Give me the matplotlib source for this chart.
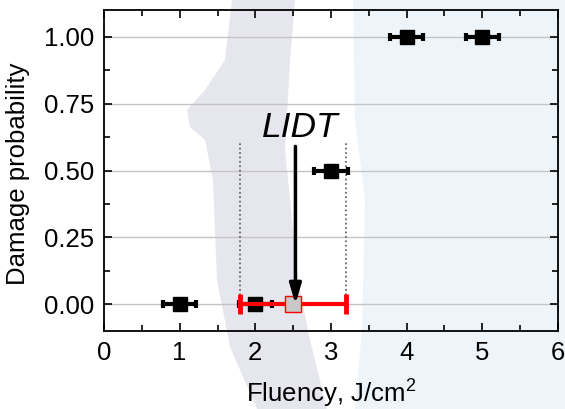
import matplotlib
matplotlib.use("Agg")
import matplotlib.pyplot as plt
from matplotlib.patches import Polygon
from matplotlib.ticker import MultipleLocator

plt.rcParams['font.family'] = ['Liberation Sans', 'DejaVu Sans']
plt.rcParams['mathtext.default'] = 'regular'

# data
fluency = [1, 2, 3, 4, 5]
prob = [0.0, 0.0, 0.5, 1.0, 1.0]
fluency_err = [0.22, 0.22, 0.22, 0.22, 0.22]

lidt_x = 2.5
lidt_y = 0.0
lidt_lo = 1.8
lidt_hi = 3.2

W, H = 565, 409
fig = plt.figure(figsize=(W / 100, H / 100), dpi=100)

# background watermark (figure pixel coords, y from top)
gray_shape = [(232, 0), (225, 60), (205, 90), (187, 110), (190, 127), (205, 140),
              (213, 180), (217, 280), (230, 347), (257, 409),
              (327, 409), (310, 340), (298, 280), (290, 200), (285, 150), (290, 60), (295, 0)]
blue_shape = [(353, 0), (355, 120), (365, 200), (362, 330), (355, 409),
              (565, 409), (565, 0)]
for pts, col in [(gray_shape, '#e6e6ee'), (blue_shape, '#eef5fa')]:
    fig.patches.append(Polygon([(x / W, 1 - y / H) for x, y in pts], closed=True,
                               transform=fig.transFigure, facecolor=col,
                               edgecolor='none', zorder=-5))

ax = fig.add_axes([104 / W, 1 - 331 / H, (558 - 104) / W, (331 - 10) / H])
ax.set_facecolor('none')

ax.errorbar(fluency, prob, xerr=fluency_err, fmt='none', ecolor='black',
            elinewidth=3, capsize=3, capthick=3, zorder=4)
ax.plot(fluency, prob, 's', color='black', markersize=10, zorder=4)

# LIDT range
ax.plot([lidt_lo, lidt_lo], [0, 0.61], ls=':', color='#555555', lw=1.2, zorder=2)
ax.plot([lidt_hi, lidt_hi], [0, 0.61], ls=':', color='#555555', lw=1.2, zorder=2)
ax.errorbar([lidt_x], [lidt_y], xerr=[[lidt_x - lidt_lo], [lidt_hi - lidt_x]], fmt='none',
            ecolor='red', elinewidth=3, capsize=7.5, capthick=3.5, zorder=5)
ax.plot([lidt_x], [lidt_y], 's', markerfacecolor='#c8c8c8', markeredgecolor='red',
        markeredgewidth=1, markersize=11, zorder=5)
ax.annotate('', xy=(2.53, 0.0), xytext=(2.53, 0.59),
            arrowprops=dict(arrowstyle='-|>,head_width=0.35,head_length=1.2',
                            color='black', lw=2.5, shrinkA=0, shrinkB=0), zorder=6)
ax.text(2.59, 0.627, 'LIDT', style='italic', fontsize=25.5, ha='center', va='baseline')

ax.set_xlim(0, 6)
ax.set_ylim(-0.1, 1.1)
ax.xaxis.set_major_locator(MultipleLocator(1))
ax.xaxis.set_minor_locator(MultipleLocator(0.5))
ax.yaxis.set_major_locator(MultipleLocator(0.25))
ax.yaxis.set_minor_locator(MultipleLocator(0.125))
ax.yaxis.set_major_formatter(matplotlib.ticker.FormatStrFormatter('%.2f'))
ax.tick_params(which='both', direction='in', top=True, right=True, labelsize=18.5, width=1.2)
ax.tick_params(which='major', length=6, pad=7)
ax.tick_params(which='minor', length=4)
ax.grid(axis='y', which='major', color='#c4c4c4', lw=1, zorder=1)
for s in ax.spines.values():
    s.set_linewidth(1.3)

ax.set_xlabel('Fluency, J/cm$^2$', fontsize=18.5)
ax.xaxis.set_label_coords(0.5, -0.145)
ax.set_ylabel('Damage probability', fontsize=18.5)
ax.yaxis.set_label_coords(-0.163, 0.49)

fig.savefig('out.png', dpi=100)
